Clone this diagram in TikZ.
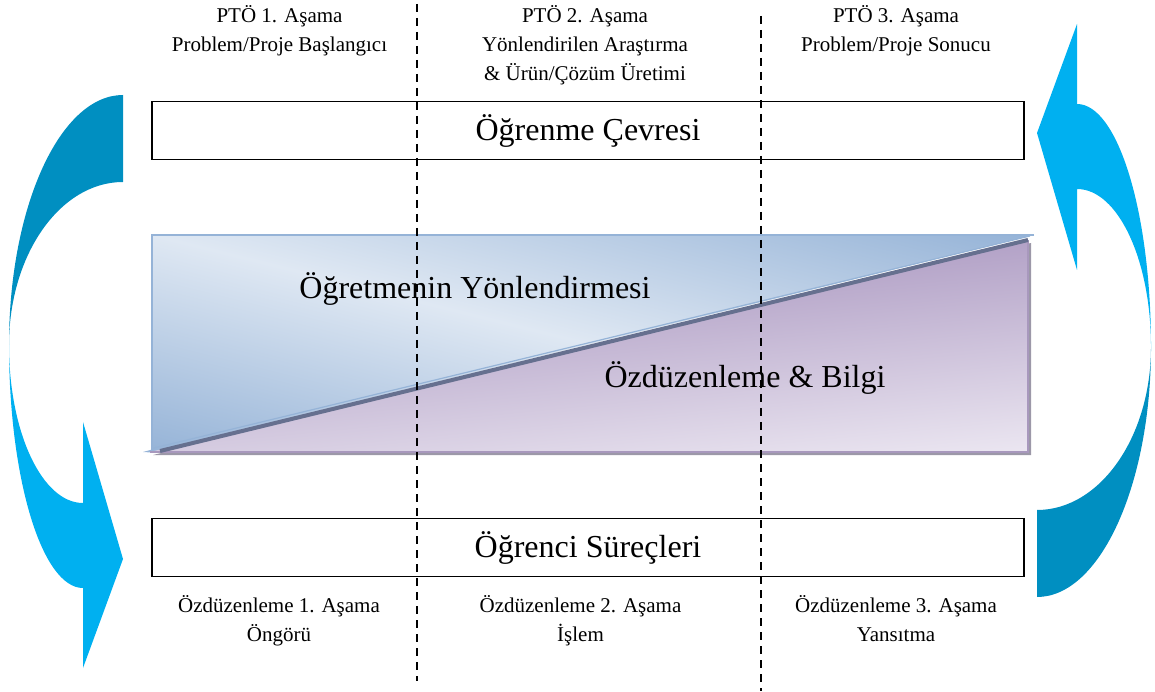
\documentclass[tikz,border=0pt]{standalone}
\usepackage{fontspec}
\setmainfont{Liberation Serif}
\definecolor{arrowdark}{HTML}{008FC1}
\definecolor{arrowlight}{HTML}{00B0F0}
\definecolor{blueA}{HTML}{95B3D7}
\definecolor{blueB}{HTML}{DFE8F3}
\definecolor{purA}{HTML}{B3A2C7}
\definecolor{purB}{HTML}{EBE6F1}
\definecolor{purEdge}{HTML}{A898BD}
\definecolor{diagline}{HTML}{66708F}
\definecolor{shadowgrey}{HTML}{9C98A8}
\begin{document}
\begin{tikzpicture}[x=1pt,y=1pt,
  box/.style={draw=black, line width=1.8pt, fill=white, minimum width=872pt,
    minimum height=58pt, inner sep=0pt, font=\fontsize{32}{38}\selectfont},
  big/.style={font=\fontsize{32}{38}\selectfont, inner sep=0pt},
  lbl/.style={font=\fontsize{21}{29}\selectfont, align=center, inner sep=0pt, anchor=north},
  divider/.style={line width=1.7pt, dash pattern=on 8pt off 6pt},
  pics/looparrow/.style 2 args={code={
    % upper half of the curved band
    \fill[#1] (123,596)
      arc[start angle=90, end angle=180, x radius=114, y radius=250]
      arc[start angle=180, end angle=90, x radius=114, y radius=163] -- cycle;
    % lower half with the arrow head
    \fill[#2] (9,346)
      arc[start angle=180, end angle=270, x radius=74, y radius=243]
      -- (83,23) -- (123,132) -- (83,269) -- (83,188)
      arc[start angle=270, end angle=180, x radius=74, y radius=158] -- cycle;
  }},
]
\useasboundingbox (0,0) rectangle (1155,691);

% cycle arrows on both sides
\pic {looparrow={arrowdark}{arrowlight}};
\pic[rotate around={180:(580,345)}] {looparrow={arrowdark}{arrowlight}};

% teacher guidance / self-regulation panel
\fill[shadowgrey] (153,236) -- (1031,236) -- (1031,448) -- cycle;
\begin{scope}
  \clip (152,456) -- (1034,456) -- (152,239) -- cycle;
  \shade[transform canvas={rotate around={-14:(590,347)}},
    top color=blueA, bottom color=blueA, middle color=blueB]
    (-10,134) rectangle (1190,560);
\end{scope}
\fill[blueA] (143,239) -- (152,241.5) -- (152,238.5) -- cycle;
\draw[blueA, line width=1.5pt] (152,239) -- (152,456) -- (1034,456);
\begin{scope}
  \clip (150,239) -- (1028,239) -- (1028,451) -- cycle;
  \shade[transform canvas={rotate around={5.5:(590,302.6)}},
    top color=purA, bottom color=purB]
    (40,197) rectangle (1140,408);
\end{scope}
\draw[purEdge, line width=1.5pt] (150,239) -- (1028,239) -- (1028,451);
\draw[diagline, line width=4pt] (160,240) -- (1028,451);
\draw[blueA, line width=1.2pt] (152,242.5) -- (1030,455);

\node[big] (ogretmen) at (475,402) {Öğretmenin Yönlendirmesi};
\node[big] (ozduzen) at (745,313) {Özdüzenleme \& Bilgi};

% environment and learner boxes
\node[box] (cevre) at (588,560.5) {Öğrenme Çevresi};
\node[box] (surec) at (588,143.5) {Öğrenci Süreçleri};

% phase labels
\node[lbl] (pto1) at (279.5,686) {PTÖ 1. Aşama\\Problem/Proje Başlangıcı};
\node[lbl] (pto2) at (585,686) {PTÖ 2. Aşama\\Yönlendirilen Araştırma\\\& Ürün/Çözüm Üretimi};
\node[lbl] (pto3) at (896,686) {PTÖ 3. Aşama\\Problem/Proje Sonucu};
\node[lbl] (oz1) at (279,96) {Özdüzenleme 1. Aşama\\Öngörü};
\node[lbl] (oz2) at (580.5,96) {Özdüzenleme 2. Aşama\\İşlem};
\node[lbl] (oz3) at (896,96) {Özdüzenleme 3. Aşama\\Yansıtma};

% phase dividers
\draw[divider] (417,687) -- (417,10);
\draw[divider] (761,675) -- (761,0);
\end{tikzpicture}
\end{document}
